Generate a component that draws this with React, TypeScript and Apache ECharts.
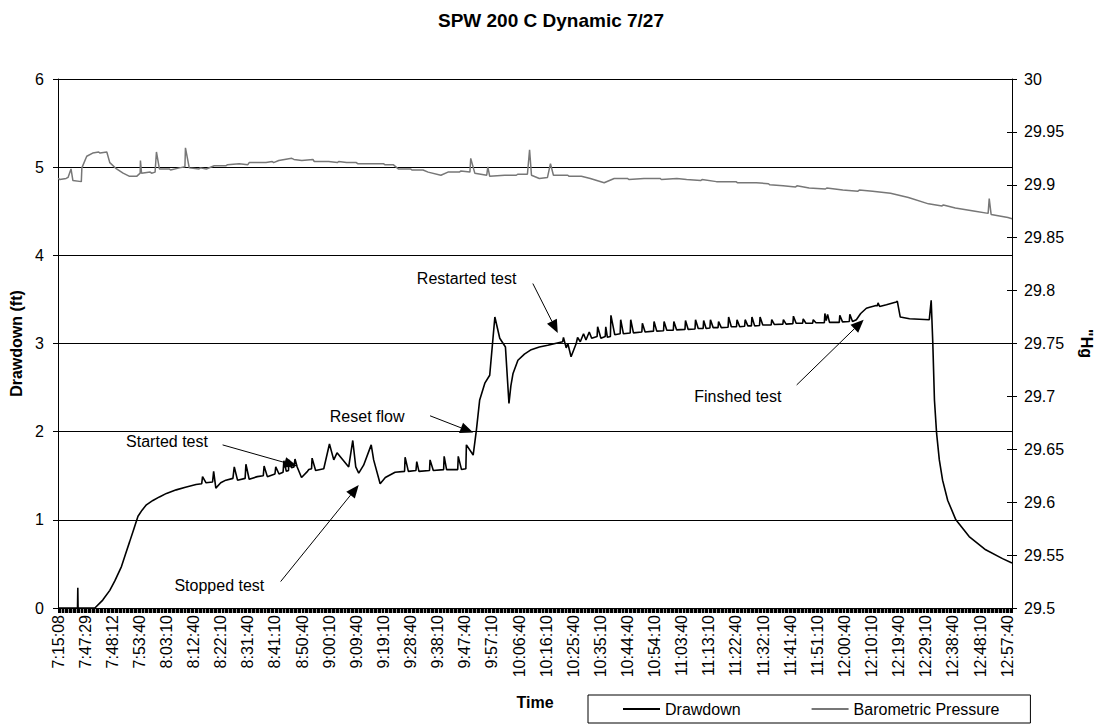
import React, { useEffect, useRef } from 'react';
import * as echarts from 'echarts';

const FONT = '"Liberation Sans", Arial, Helvetica, sans-serif';

// Category tick labels (x positions are label indices 0..35)
const timeLabels = [
  '7:15:08', '7:47:29', '7:48:12', '7:53:40', '8:03:10', '8:12:40', '8:22:10', '8:31:40',
  '8:41:10', '8:50:40', '9:00:10', '9:09:40', '9:19:10', '9:28:40', '9:38:10', '9:47:40',
  '9:57:10', '10:06:40', '10:16:10', '10:25:40', '10:35:10', '10:44:40', '10:54:10', '11:03:40',
  '11:13:10', '11:22:40', '11:32:10', '11:41:40', '11:51:10', '12:00:40', '12:10:10', '12:19:40',
  '12:29:10', '12:38:40', '12:48:10', '12:57:40',
];
const xMax = 35.18;

// Drawdown (ft): [label index, value]
const drawdownStart = [
  [0, 0], [0.72, 0], [0.73, 0.23], [0.74, 0], [1.36, 0], [1.65, 0.09], [1.91, 0.2], [2.1, 0.31],
  [2.34, 0.47], [2.5, 0.62], [2.64, 0.75], [2.8, 0.9], [2.95, 1.04], [3.1, 1.11], [3.26, 1.17],
  [3.5, 1.22], [3.74, 1.26], [4.0, 1.3], [4.36, 1.34], [4.7, 1.37], [5.09, 1.4],
];
const drawdownFirstTest = [
  [5.3, 1.41], [5.33, 1.49], [5.46, 1.42], [5.7, 1.43], [5.74, 1.55], [5.82, 1.36], [6.0, 1.42],
  [6.19, 1.45], [6.45, 1.47], [6.5, 1.6], [6.62, 1.45], [6.9, 1.47], [6.93, 1.63], [7.05, 1.46],
  [7.35, 1.49], [7.57, 1.5], [7.6, 1.61], [7.72, 1.49], [8.0, 1.52], [8.03, 1.6], [8.15, 1.52],
  [8.3, 1.54], [8.33, 1.67], [8.42, 1.55], [8.5, 1.56], [8.52, 1.68], [8.61, 1.59], [8.7, 1.6],
  [8.74, 1.69], [8.82, 1.6], [8.98, 1.48], [9.2, 1.55], [9.25, 1.57], [9.35, 1.58], [9.37, 1.7],
  [9.5, 1.56], [9.8, 1.58], [10.01, 1.86], [10.17, 1.68], [10.29, 1.76], [10.72, 1.6],
  [10.87, 1.9], [10.98, 1.6], [11.09, 1.53], [11.27, 1.62], [11.55, 1.85], [11.64, 1.68],
  [11.88, 1.41], [12.07, 1.48], [12.43, 1.54], [12.78, 1.55], [12.8, 1.71], [12.92, 1.55],
  [13.2, 1.56], [13.23, 1.66], [13.31, 1.55], [13.7, 1.56], [13.72, 1.68], [13.84, 1.56],
  [14.22, 1.57], [14.24, 1.72], [14.33, 1.57], [14.74, 1.57], [14.76, 1.72], [14.88, 1.57],
  [15.04, 1.58], [15.06, 1.85], [15.31, 1.735],
];
const drawdownReset = [
  [15.43, 2.02], [15.55, 2.36], [15.74, 2.55], [15.92, 2.64], [16.11, 3.3], [16.29, 3.06],
  [16.5, 2.96], [16.63, 2.32], [16.7, 2.52], [16.78, 2.66], [16.96, 2.81], [17.2, 2.88],
  [17.45, 2.93], [17.75, 2.96], [18.06, 2.98], [18.61, 3.02],
];
const drawdownSecondTest = [
  [18.64, 3.07], [18.74, 2.95], [18.8, 3.0], [18.92, 2.85], [19.11, 3.0], [19.16, 3.07],
  [19.26, 3.02], [19.38, 3.11], [19.47, 3.04], [19.59, 3.13], [19.68, 3.06], [19.88, 3.08],
  [19.9, 3.19], [20.02, 3.06], [20.18, 3.08], [20.2, 3.19], [20.26, 3.07], [20.37, 3.08],
  [20.39, 3.32], [20.53, 3.1], [20.73, 3.11], [20.75, 3.27], [20.85, 3.11], [21.1, 3.12],
  [21.12, 3.27], [21.22, 3.12], [21.53, 3.13], [21.55, 3.23], [21.65, 3.13], [21.96, 3.14],
  [21.98, 3.25], [22.08, 3.14], [22.33, 3.145], [22.35, 3.25], [22.45, 3.15], [22.69, 3.15],
  [22.71, 3.25], [22.81, 3.155], [23.12, 3.16], [23.14, 3.26], [23.24, 3.16], [23.49, 3.165],
  [23.51, 3.27], [23.61, 3.17], [23.79, 3.17], [23.81, 3.26], [23.9, 3.17], [24.04, 3.175],
  [24.06, 3.27], [24.16, 3.18], [24.34, 3.18], [24.36, 3.25], [24.46, 3.18], [24.71, 3.185],
  [24.73, 3.3], [24.83, 3.19], [25.02, 3.19], [25.04, 3.27], [25.14, 3.19], [25.32, 3.195],
  [25.34, 3.27], [25.44, 3.2], [25.57, 3.2], [25.59, 3.3], [25.69, 3.2], [25.87, 3.205],
  [25.89, 3.3], [25.99, 3.21], [26.3, 3.21], [26.32, 3.27], [26.42, 3.215], [26.73, 3.22],
  [26.75, 3.27], [26.85, 3.22], [27.1, 3.225], [27.12, 3.31], [27.22, 3.23], [27.46, 3.23],
  [27.48, 3.28], [27.58, 3.23], [27.83, 3.23], [27.85, 3.27], [27.95, 3.235], [28.26, 3.235],
  [28.28, 3.34], [28.33, 3.26], [28.38, 3.33], [28.45, 3.24], [28.81, 3.24], [28.83, 3.32],
  [28.93, 3.245], [29.18, 3.25], [29.2, 3.33], [29.3, 3.25], [29.44, 3.27], [29.6, 3.34],
  [29.81, 3.4], [29.93, 3.41], [30.17, 3.43], [30.22, 3.43], [30.24, 3.46], [30.3, 3.42],
  [30.55, 3.44], [30.91, 3.47], [30.95, 3.48], [31.06, 3.3], [31.4, 3.28], [32.13, 3.27],
  [32.2, 3.49],
];
const drawdownRecovery = [
  [32.26, 3.0], [32.32, 2.36], [32.4, 1.98], [32.5, 1.68], [32.62, 1.45], [32.81, 1.22],
  [33.11, 1.0], [33.6, 0.81], [34.21, 0.66], [34.83, 0.56], [35.18, 0.51],
];

// Barometric pressure ("Hg): [label index, value]
const baroData = [
  [0, 29.906], [0.07, 29.905], [0.3, 29.906], [0.37, 29.907], [0.48, 29.915], [0.55, 29.904],
  [0.86, 29.903], [0.88, 29.916], [1.06, 29.927], [1.28, 29.93], [1.5, 29.931], [1.55, 29.93],
  [1.8, 29.931], [1.91, 29.921], [2.16, 29.915], [2.4, 29.911], [2.64, 29.908], [2.9, 29.908],
  [3.03, 29.911], [3.04, 29.923], [3.08, 29.911], [3.4, 29.912], [3.45, 29.911], [3.58, 29.912],
  [3.63, 29.931], [3.74, 29.915], [4.1, 29.915], [4.15, 29.914], [4.48, 29.916], [4.68, 29.917],
  [4.7, 29.935], [4.84, 29.916], [5.2, 29.915], [5.25, 29.916], [5.47, 29.915], [5.76, 29.918],
  [6.2, 29.918], [6.25, 29.919], [6.68, 29.92], [7.0, 29.919], [7.05, 29.921], [7.67, 29.921],
  [7.9, 29.922], [7.95, 29.921], [8.14, 29.923], [8.62, 29.925], [8.7, 29.924], [8.99, 29.923],
  [9.4, 29.924], [9.45, 29.922], [9.98, 29.922], [10.3, 29.921], [10.35, 29.922], [10.64, 29.921],
  [11.0, 29.921], [11.05, 29.92], [11.45, 29.92], [12.0, 29.92], [12.05, 29.919], [12.36, 29.919],
  [12.55, 29.915], [13.0, 29.915], [13.05, 29.914], [13.46, 29.914], [13.65, 29.912],
  [14.12, 29.909], [14.38, 29.912], [14.8, 29.912], [14.85, 29.913], [15.19, 29.912],
  [15.22, 29.925], [15.37, 29.911], [15.81, 29.909], [15.85, 29.917], [15.92, 29.908],
  [16.47, 29.909], [16.9, 29.909], [16.95, 29.91], [17.31, 29.91], [17.39, 29.933],
  [17.46, 29.909], [17.75, 29.906], [18.05, 29.907], [18.16, 29.92], [18.27, 29.909],
  [18.8, 29.909], [18.85, 29.908], [19.3, 29.908], [19.63, 29.906], [20.14, 29.902],
  [20.51, 29.906], [21.0, 29.906], [21.05, 29.905], [21.61, 29.906], [22.2, 29.906],
  [22.25, 29.905], [22.82, 29.906], [23.18, 29.905], [23.7, 29.904], [23.75, 29.905],
  [24.28, 29.903], [25.0, 29.903], [25.05, 29.902], [25.75, 29.902], [26.2, 29.901],
  [26.25, 29.9], [26.74, 29.899], [27.2, 29.898], [27.25, 29.899], [27.7, 29.897],
  [28.3, 29.896], [28.35, 29.897], [28.94, 29.895], [29.5, 29.894], [29.55, 29.895],
  [30.04, 29.894], [30.7, 29.892], [31.36, 29.888], [32.1, 29.882], [32.6, 29.88],
  [32.65, 29.881], [33.09, 29.878], [33.82, 29.875], [34.3, 29.873], [34.34, 29.887],
  [34.41, 29.872], [35.03, 29.869], [35.18, 29.868],
];

// Annotations (drawdown axis units)
const noteTexts = ['Started test', 'Stopped test', 'Reset flow', 'Restarted test', 'Finshed test'];
const notePositions = [[4.02, 1.886], [5.95, 0.25], [11.4, 2.17], [15.07, 3.74], [25.07, 2.4]];
const arrowFrom = [[6.07, 1.85], [8.21, 0.3], [13.72, 2.18], [17.51, 3.68], [27.24, 2.53]];
const arrowTo = [[8.82, 1.61], [11.09, 1.395], [15.31, 1.99], [18.43, 3.12], [29.71, 3.27]];

export default function App() {
  const ref = useRef<HTMLDivElement>(null);
  useEffect(() => {
    const chart = echarts.init(ref.current as HTMLDivElement, null, { renderer: 'svg' });
    const drawdownData = [
      ...drawdownStart, ...drawdownFirstTest, ...drawdownReset, ...drawdownSecondTest, ...drawdownRecovery,
    ];
    const arrowData = arrowFrom.map((p, i) => [p[0], p[1], arrowTo[i][0], arrowTo[i][1]]);
    const axisText = { fontFamily: FONT, fontSize: 16, color: '#000' };
    chart.setOption({
      animation: false,
      backgroundColor: '#fff',
      textStyle: { fontFamily: FONT },
      title: {
        text: 'SPW 200 C Dynamic 7/27',
        left: 'center',
        top: 6,
        textStyle: { fontFamily: FONT, fontSize: 19, fontWeight: 'bold', color: '#000' },
      },
      grid: { left: 58, right: 86, top: 79, bottom: 117 },
      legend: {
        left: 588,
        top: 695,
        itemWidth: 37,
        itemHeight: 2,
        itemGap: 71,
        icon: 'rect',
        padding: [6, 31, 6, 35],
        borderColor: '#000',
        borderWidth: 1,
        textStyle: { fontFamily: FONT, fontSize: 16, color: '#000' },
        data: ['Drawdown', 'Barometric Pressure'],
      },
      xAxis: {
        type: 'value',
        min: 0,
        max: xMax,
        interval: 1,
        name: 'Time',
        nameLocation: 'middle',
        nameGap: 86,
        nameTextStyle: { ...axisText, fontWeight: 'bold' },
        axisLine: { show: true, onZero: false, lineStyle: { color: '#000', width: 1 } },
        axisTick: { show: true, length: 5, lineStyle: { color: '#000', width: 1 } },
        minorTick: { show: true, splitNumber: 20, length: 5, lineStyle: { color: '#000', width: 1.4 } },
        axisLabel: {
          ...axisText,
          rotate: 90,
          margin: 7,
          showMaxLabel: false,
          formatter: (v: number) => {
            const i = Math.round(v);
            return Math.abs(v - i) < 1e-6 && timeLabels[i] ? timeLabels[i] : '';
          },
        },
        splitLine: { show: false },
      },
      yAxis: [
        {
          type: 'value',
          min: 0,
          max: 6,
          interval: 1,
          position: 'left',
          name: 'Drawdown (ft)',
          nameLocation: 'middle',
          nameGap: 33,
          nameRotate: 90,
          nameTextStyle: { ...axisText, fontWeight: 'bold' },
          axisLine: { show: true, lineStyle: { color: '#000', width: 1 } },
          axisTick: { show: true, length: 5, lineStyle: { color: '#000' } },
          axisLabel: { ...axisText, margin: 14 },
          splitLine: { show: true, lineStyle: { color: '#000', width: 1 } },
        },
        {
          type: 'value',
          min: 29.5,
          max: 30,
          interval: 0.05,
          position: 'right',
          name: '"Hg',
          nameLocation: 'middle',
          nameGap: 66,
          nameRotate: -90,
          nameTextStyle: { ...axisText, fontWeight: 'bold' },
          axisLine: { show: true, lineStyle: { color: '#000', width: 1 } },
          axisTick: { show: true, length: 5, lineStyle: { color: '#000' } },
          axisLabel: {
            ...axisText,
            margin: 12,
            formatter: (v: number) => String(Math.round(v * 100) / 100),
          },
          splitLine: { show: false },
        },
        {
          type: 'value',
          min: 29.5,
          max: 30,
          interval: 0.05,
          position: 'right',
          axisLine: { show: false },
          axisTick: { show: true, inside: true, length: 5, lineStyle: { color: '#000' } },
          axisLabel: { show: false },
          splitLine: { show: false },
        },
      ],
      series: [
        {
          name: 'Barometric Pressure',
          type: 'line',
          yAxisIndex: 1,
          data: baroData,
          symbol: 'none',
          lineStyle: { color: '#777777', width: 1.5 },
          itemStyle: { color: '#777777' },
          z: 2,
        },
        {
          name: 'Drawdown',
          type: 'line',
          yAxisIndex: 0,
          data: drawdownData,
          symbol: 'none',
          lineStyle: { color: '#000', width: 1.6 },
          itemStyle: { color: '#000' },
          z: 3,
          markPoint: {
            silent: true,
            symbol: 'rect',
            symbolSize: 1,
            itemStyle: { color: 'rgba(0,0,0,0)' },
            label: { show: true, position: 'inside', formatter: '{b}', ...axisText },
            data: noteTexts.map((t, i) => ({ name: t, coord: notePositions[i] })),
          },
        },
        {
          type: 'custom',
          name: 'arrows',
          xAxisIndex: 0,
          yAxisIndex: 0,
          silent: true,
          clip: false,
          z: 4,
          data: arrowData,
          renderItem: (params: any, api: any) => {
            const a = api.coord([api.value(0), api.value(1)]);
            const b = api.coord([api.value(2), api.value(3)]);
            const dx = b[0] - a[0];
            const dy = b[1] - a[1];
            const len = Math.sqrt(dx * dx + dy * dy) || 1;
            const ux = dx / len;
            const uy = dy / len;
            const headLen = 13;
            const headHalf = 5.5;
            const bx = b[0] - ux * headLen;
            const by = b[1] - uy * headLen;
            return {
              type: 'group',
              children: [
                {
                  type: 'line',
                  shape: { x1: a[0], y1: a[1], x2: bx, y2: by },
                  style: { stroke: '#000', lineWidth: 1 },
                },
                {
                  type: 'polygon',
                  shape: {
                    points: [
                      [b[0], b[1]],
                      [bx - uy * headHalf, by + ux * headHalf],
                      [bx + uy * headHalf, by - ux * headHalf],
                    ],
                  },
                  style: { fill: '#000' },
                },
              ],
            };
          },
        },
      ],
    });
    return () => chart.dispose();
  }, []);
  return (
    <div
      ref={ref}
      style={{ position: 'fixed', left: 0, top: 0, width: 1102, height: 725, background: '#fff' }}
    />
  );
}
